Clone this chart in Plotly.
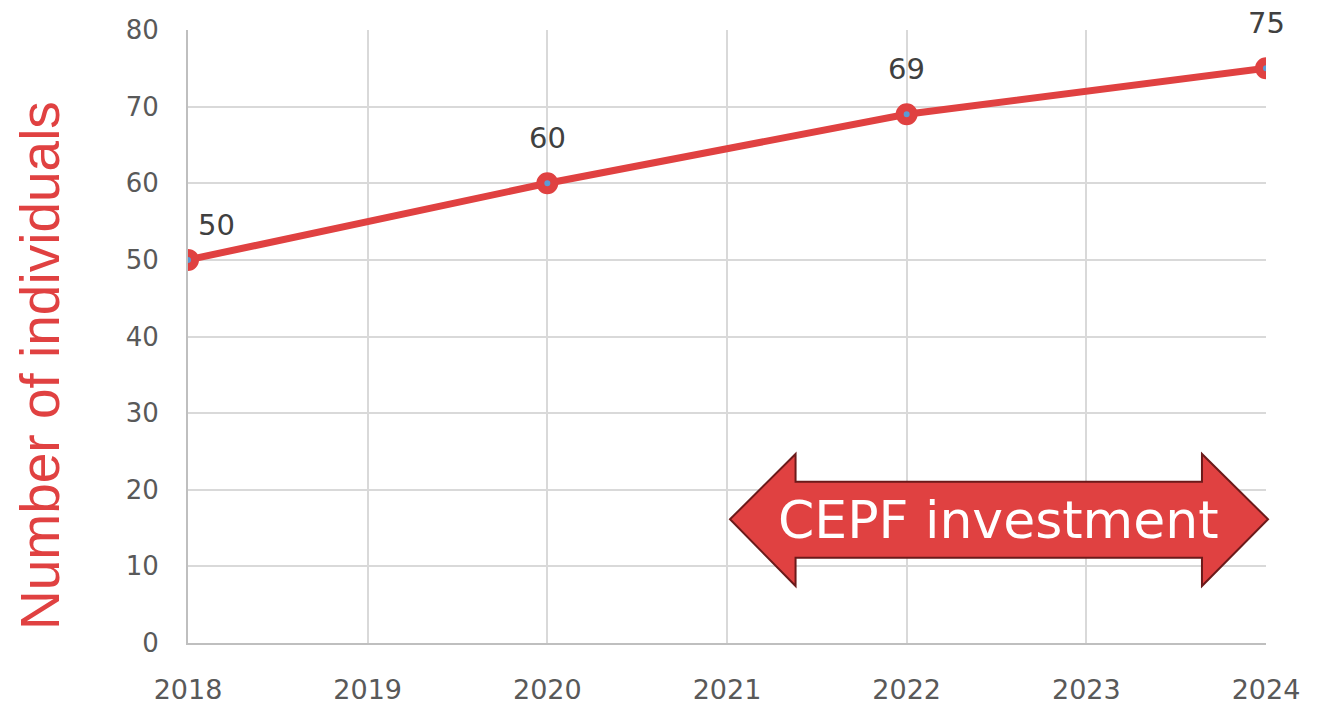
import plotly.graph_objects as go

# data
years = [2018, 2020, 2022, 2024]
individuals = [50, 60, 69, 75]
x_ticks = [2018, 2019, 2020, 2021, 2022, 2023, 2024]
y_ticks = [0, 10, 20, 30, 40, 50, 60, 70, 80]

red = "#E04141"
dark_red = "#6B1A1A"
grid = "#D9D9D9"

fig = go.Figure()

fig.add_trace(go.Scatter(
    x=years, y=individuals,
    mode="lines+markers",
    line=dict(color=red, width=7),
    marker=dict(size=14, color="#5B9BD5", line=dict(color=red, width=8)),
    showlegend=False,
    hoverinfo="x+y",
))

# value labels above the points
for i, (yr, val) in enumerate(zip(years, individuals)):
    fig.add_annotation(
        x=yr, y=val, text=str(val), showarrow=False,
        xanchor="center", yanchor="middle",
        xshift=28 if i == 0 else 0,
        yshift=35 if i == 0 else 45,
        font=dict(family="DejaVu Sans", size=29, color="#404040"),
    )

# double-headed arrow, in axis-domain coords so the text goes on top of it
ax = [0.5028, 0.5636, 0.9406, 1.0019]
ay = [0.3083, 0.2631, 0.2018, 0.1392, 0.0930]
path = (f"M {ax[0]},{ay[2]} L {ax[1]},{ay[0]} L {ax[1]},{ay[1]} L {ax[2]},{ay[1]} "
        f"L {ax[2]},{ay[0]} L {ax[3]},{ay[2]} L {ax[2]},{ay[4]} L {ax[2]},{ay[3]} "
        f"L {ax[1]},{ay[3]} L {ax[1]},{ay[4]} Z")
fig.add_shape(type="path", path=path, xref="x domain", yref="y domain",
              fillcolor=red, line=dict(color=dark_red, width=2), layer="above")
fig.add_annotation(x=0.7514, y=0.2007, xref="paper", yref="paper",
                   xanchor="center", yanchor="middle",
                   text="CEPF investment", showarrow=False,
                   font=dict(family="DejaVu Sans", size=52, color="white"))

# y axis title
fig.add_annotation(x=-0.1373, y=0.4535, xref="paper", yref="paper",
                   xanchor="center", yanchor="middle",
                   text="Number of individuals", showarrow=False, textangle=-90,
                   font=dict(family="Liberation Sans", size=55, color=red))

fig.update_xaxes(
    range=[2018, 2024], tickvals=x_ticks, ticktext=[str(t) for t in x_ticks],
    showgrid=True, gridcolor=grid, gridwidth=2,
    showline=True, linecolor="#BFBFBF", linewidth=2,
    ticks="", ticklabelstandoff=22, automargin=False,
    tickfont=dict(family="DejaVu Sans", size=27, color="#595959"),
    zeroline=False,
)
fig.update_yaxes(
    range=[0, 80], tickvals=y_ticks,
    showgrid=True, gridcolor=grid, gridwidth=2,
    showline=True, linecolor="#BFBFBF", linewidth=2,
    ticks="", ticklabelstandoff=22, automargin=False,
    tickfont=dict(family="DejaVu Sans", size=26, color="#595959"),
    zeroline=False,
)

fig.update_layout(
    width=1320, height=707,
    margin=dict(l=188, r=54, t=30, b=64),
    plot_bgcolor="white", paper_bgcolor="white",
)

# drop the default 8px body margin so the figure fills the window
fig.write_html("out.html", config={"displayModeBar": False},
               post_script="document.body.style.margin = '0';")
